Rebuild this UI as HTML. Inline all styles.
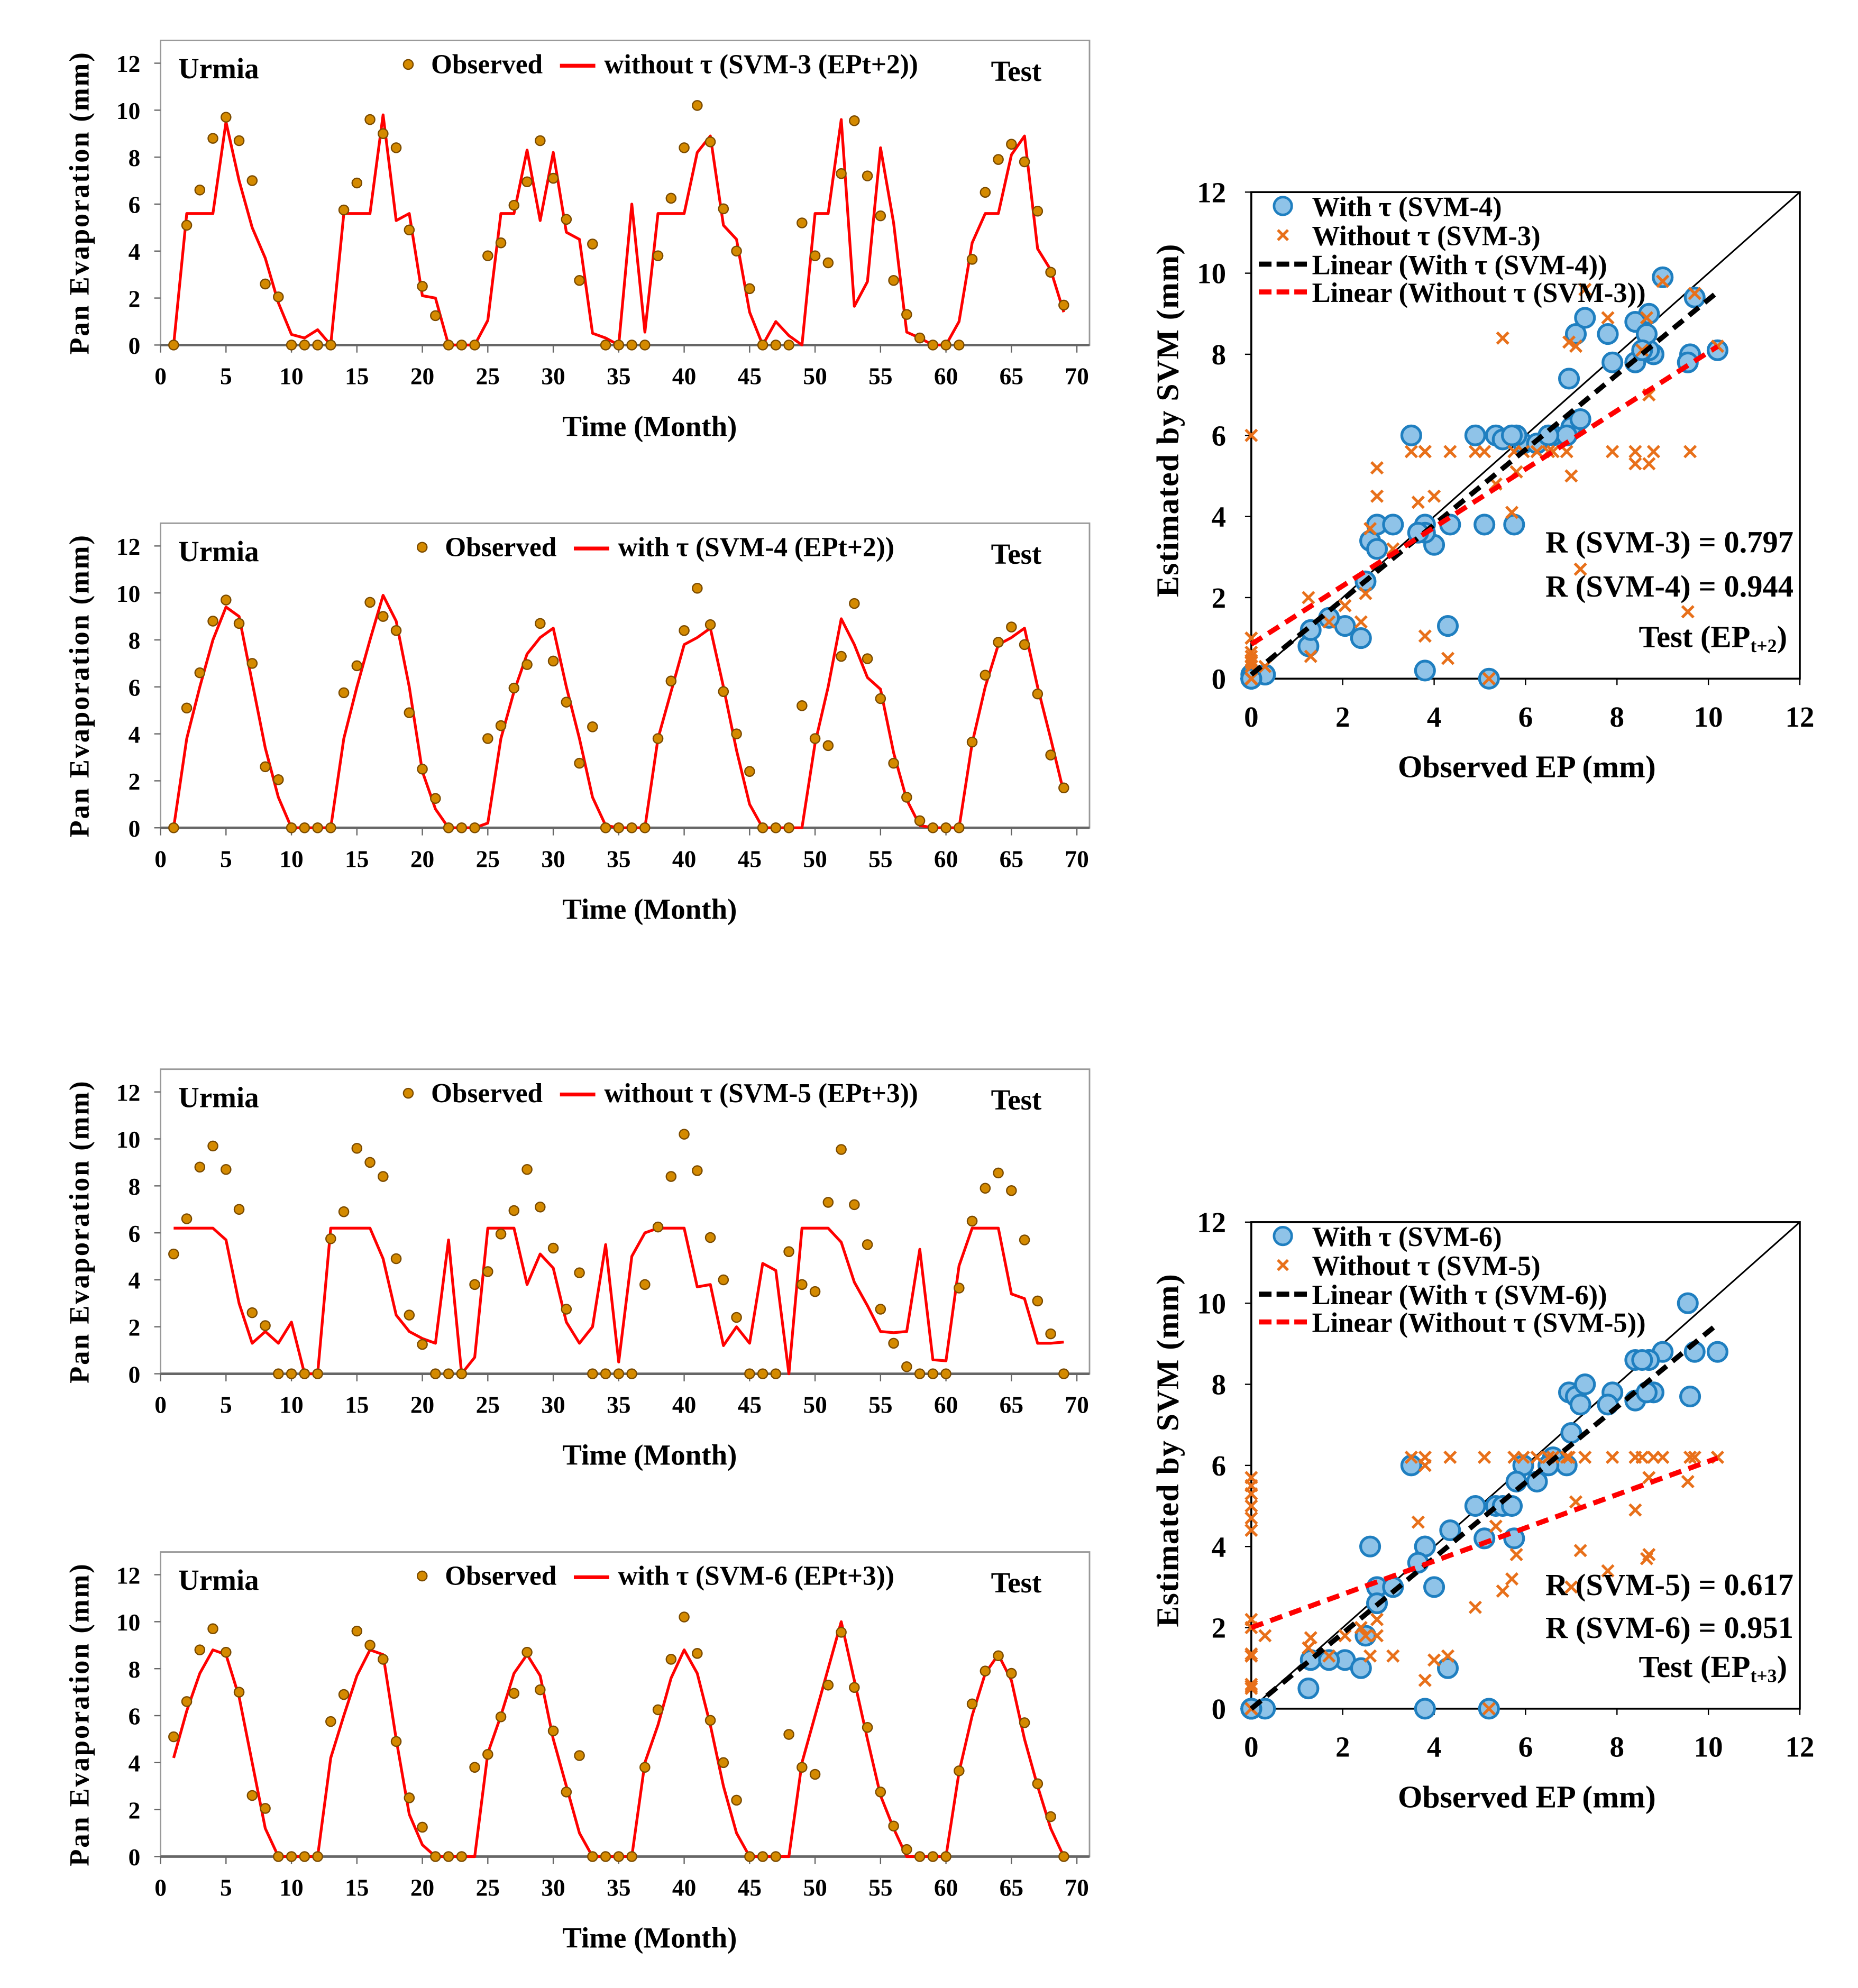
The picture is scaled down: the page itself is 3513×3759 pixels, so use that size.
<!DOCTYPE html>
<html><head><meta charset="utf-8"><style>
html,body{margin:0;padding:0;background:#fff;}
svg{display:block;}
text{font-family:"Liberation Serif",serif;font-weight:bold;fill:#000;}
</style></head><body>
<svg id="fig" xmlns="http://www.w3.org/2000/svg" width="3513" height="3759" viewBox="0 0 1470 1573"></svg>
<script>
const months = [];
for (let m = 1; m <= 69; m++) months.push(m);
const observedT2 = [0,5.1,6.6,8.8,9.7,8.7,7.0,2.6,2.05,0,0,0,0,5.75,6.9,9.6,9.0,8.4,4.9,2.5,1.25,0,0,0,3.8,4.35,5.95,6.95,8.7,7.1,5.35,2.75,4.3,0,0,0,0,3.8,6.25,8.4,10.2,8.65,5.8,4.0,2.4,0,0,0,5.2,3.8,3.5,7.3,9.55,7.2,5.5,2.75,1.3,0.3,0,0,0,3.65,6.5,7.9,8.55,7.8,5.7,3.1,1.7];
const observedT3 = [5.1,6.6,8.8,9.7,8.7,7.0,2.6,2.05,0,0,0,0,5.75,6.9,9.6,9.0,8.4,4.9,2.5,1.25,0,0,0,3.8,4.35,5.95,6.95,8.7,7.1,5.35,2.75,4.3,0,0,0,0,3.8,6.25,8.4,10.2,8.65,5.8,4.0,2.4,0,0,0,5.2,3.8,3.5,7.3,9.55,7.2,5.5,2.75,1.3,0.3,0,0,0,3.65,6.5,7.9,8.55,7.8,5.7,3.1,1.7,0];
const svm3 = [0,5.6,5.6,5.6,9.5,7.0,5.0,3.7,1.8,0.45,0.3,0.65,0,5.6,5.6,5.6,9.8,5.3,5.6,2.1,2.0,0,0,0,1.05,5.6,5.6,8.3,5.3,8.2,4.8,4.5,0.5,0.3,0,6.0,0.55,5.6,5.6,5.6,8.2,8.9,5.1,4.5,1.4,0,1.0,0.4,0,5.6,5.6,9.6,1.65,2.7,8.4,5.2,0.55,0.3,0,0,1.0,4.35,5.6,5.6,8.1,8.9,4.1,3.2,1.4];
const svm4 = [0,3.8,6.0,8.0,9.4,9.0,6.2,3.4,1.3,0,0,0,0,3.8,6.0,8.0,9.9,8.8,6.0,2.4,0.8,0,0,0,0.2,3.8,5.8,7.4,8.1,8.5,6.0,3.8,1.3,0.1,0,0,0,3.8,5.8,7.8,8.1,8.5,6.0,3.3,1.0,0,0,0,0,3.6,6.0,8.9,7.8,6.4,5.9,3.2,1.2,0.1,0,0,0,3.6,6.0,7.8,8.1,8.5,6.0,3.8,1.5];
const svm5 = [6.2,6.2,6.2,6.2,5.7,3.0,1.3,1.8,1.3,2.2,0,0,6.2,6.2,6.2,6.2,4.9,2.5,1.8,1.5,1.3,5.7,0,0.7,6.2,6.2,6.2,3.8,5.1,4.5,2.2,1.3,2.0,5.5,0.5,5.0,6.0,6.2,6.2,6.2,3.7,3.8,1.2,2.0,1.3,4.7,4.4,0,6.2,6.2,6.2,5.6,3.9,2.9,1.8,1.75,1.8,5.3,0.6,0.55,4.6,6.2,6.2,6.2,3.4,3.2,1.3,1.3,1.35];
const svm6 = [4.2,6.2,7.8,8.8,8.6,6.8,4.0,1.2,0,0,0,0,4.2,6.0,7.7,8.8,8.6,5.0,1.8,0.5,0,0,0,0,4.4,6.0,7.8,8.6,7.7,5.0,3.0,1.0,0,0,0,0,4.0,5.6,7.6,8.8,7.8,5.6,3.0,1.0,0,0,0,0,4.0,6.0,8.0,10.0,7.5,5.0,2.6,1.2,0,0,0,0,3.6,6.0,7.8,8.6,7.5,5.0,3.0,1.2,0];
const timeTicks = [0,5,10,15,20,25,30,35,40,45,50,55,60,65,70];
const evapTicks = [0,2,4,6,8,10,12];
const scatterTicks = [0,2,4,6,8,10,12];
const trendA = [0.1, 0.925];
const trendB = [0.85, 0.72];
const trendC = [0.0, 0.93];
const trendD = [2.0, 0.41];

const NS = 'http://www.w3.org/2000/svg';
const svg = document.getElementById('fig');
function mk(tag, attrs, parent, txt) {
  const e = document.createElementNS(NS, tag);
  for (const k in attrs) e.setAttribute(k, attrs[k]);
  if (txt !== undefined) e.textContent = txt;
  (parent || svg).appendChild(e);
  return e;
}

function lineChart(cfg) {
  const g = mk('g', {});
  
  
  const L = 127, R = 862, T = cfg.top, B = cfg.top + 241;
  const y12 = cfg.top + 18;
  const X = v => L + (v / 70) * (852 - L);
  const Y = v => B - (v / 12) * (B - y12);
  const frame = mk('rect', {x: L, y: T, width: R - L, height: B - T, fill: 'none', stroke: '#999', 'stroke-width': 1.2}, g);
  
  
  const xa = mk('line', {x1: L, y1: B, x2: R, y2: B, stroke: '#666', 'stroke-width': 2}, g);
  
  
  timeTicks.forEach(t => {
    mk('line', {x1: X(t), y1: B, x2: X(t), y2: B + 6, stroke: '#666', 'stroke-width': 1}, g);
    const tl = mk('text', {x: X(t), y: B + 31, 'text-anchor': 'middle', 'font-size': 19}, g, t);
    
    
  });
  evapTicks.forEach(t => {
    mk('line', {x1: L - 5, y1: Y(t), x2: L, y2: Y(t), stroke: '#666', 'stroke-width': 1}, g);
    const tl = mk('text', {x: 111, y: Y(t) + 7, 'text-anchor': 'end', 'font-size': 19}, g, t);
    
    
  });
  const cy = (T + B) / 2 + 8;
  const yt = mk('text', {x: 70, y: cy, 'text-anchor': 'middle', 'font-size': 22, 'letter-spacing': 1.2, transform: `rotate(-90 70 ${cy})`}, g, 'Pan Evaporation (mm)');
  
  
  const xt = mk('text', {x: 514, y: B + 72, 'text-anchor': 'middle', 'font-size': 23}, g, 'Time (Month)');
  
  
  const u = mk('text', {x: 141, y: T + 30, 'font-size': 23}, g, 'Urmia');
  
  
  const te = mk('text', {x: 784, y: T + 32, 'font-size': 23}, g, 'Test');
  
  
  const lg = mk('g', {}, g);
  
  
  mk('circle', {cx: cfg.legX, cy: T + 19, r: 3.8, fill: '#d48a00', stroke: '#7a4a00', 'stroke-width': 1}, lg);
  mk('text', {x: cfg.legX + 18, y: T + 26, 'font-size': 21.5}, lg, 'Observed');
  mk('line', {x1: cfg.legX + 120, y1: T + 20, x2: cfg.legX + 148, y2: T + 20, stroke: '#f00', 'stroke-width': 3}, lg);
  mk('text', {x: cfg.legX + 155, y: T + 26, 'font-size': 21.5}, lg, cfg.label);
  const pts = months.map((m, i) => X(m) + ',' + Y(cfg.pred[i])).join(' ');
  const pl = mk('polyline', {points: pts, fill: 'none', stroke: '#f00', 'stroke-width': 2.2, 'stroke-linejoin': 'round'}, g);
  
  
  months.forEach((m, i) => {
    const c = mk('circle', {cx: X(m), cy: Y(cfg.obs[i]), r: 3.8, fill: '#d48a00', stroke: '#7a4a00', 'stroke-width': 1}, g);
    
    
  });
}

function scatter(cfg) {
  const g = mk('g', {});
  
  
  const L = 990, R = 1424, B = cfg.bottom, T = cfg.bottom - 385;
  const X = v => L + v / 12 * (R - L);
  const Y = v => B - v / 12 * (B - T);
  const fr = mk('rect', {x: L, y: T, width: R - L, height: B - T, fill: 'none', stroke: '#000', 'stroke-width': 1.5}, g);
  
  
  scatterTicks.forEach(t => {
    mk('line', {x1: X(t), y1: B, x2: X(t), y2: B + 5, stroke: '#000', 'stroke-width': 1}, g);
    mk('line', {x1: L - 5, y1: Y(t), x2: L, y2: Y(t), stroke: '#000', 'stroke-width': 1}, g);
    const a = mk('text', {x: X(t), y: B + 38, 'text-anchor': 'middle', 'font-size': 23}, g, t);
    
    
    const b = mk('text', {x: 970, y: Y(t) + 8, 'text-anchor': 'end', 'font-size': 23}, g, t);
    
    
  });
  const xt = mk('text', {x: 1208, y: B + 78, 'text-anchor': 'middle', 'font-size': 25}, g, 'Observed EP (mm)');
  
  
  const cy = (T + B) / 2 - 12;
  const yt = mk('text', {x: 932, y: cy, 'text-anchor': 'middle', 'font-size': 25, 'letter-spacing': 0.6, transform: `rotate(-90 932 ${cy})`}, g, 'Estimated by SVM (mm)');
  
  
  const one = mk('line', {x1: X(0), y1: Y(0), x2: X(12), y2: Y(12), stroke: '#000', 'stroke-width': 1.3}, g);
  
  
  cfg.obs.forEach((o, i) => {
    const c = mk('circle', {cx: X(o), cy: Y(cfg.withT[i]), r: 7.5, fill: '#8fc3e8', stroke: '#1f7fc0', 'stroke-width': 2.2}, g);
    
    
  });
  cfg.obs.forEach((o, i) => {
    const x = X(o), y = Y(cfg.withoutT[i]), d = 4.5;
    const p = mk('path', {d: `M${x-d},${y-d}L${x+d},${y+d}M${x-d},${y+d}L${x+d},${y-d}`, stroke: '#e8701a', 'stroke-width': 2.2}, g);
    
    
  });
  const tb = mk('line', {x1: X(0), y1: Y(cfg.trW[0]), x2: X(10.2), y2: Y(cfg.trW[0] + cfg.trW[1] * 10.2), stroke: '#000', 'stroke-width': 4, 'stroke-dasharray': '10,6'}, g);
  
  
  const tr = mk('line', {x1: X(0), y1: Y(cfg.trWo[0]), x2: X(10.2), y2: Y(cfg.trWo[0] + cfg.trWo[1] * 10.2), stroke: '#f00', 'stroke-width': 4, 'stroke-dasharray': '10,6'}, g);
  
  
  const lg = mk('g', {}, g);
  
  
  const ly = T + 11;
  mk('circle', {cx: 1015, cy: ly, r: 7, fill: '#8fc3e8', stroke: '#1f7fc0', 'stroke-width': 2}, lg);
  mk('text', {x: 1038, y: ly + 8, 'font-size': 22}, lg, cfg.l1);
  mk('path', {d: `M1011,${ly+19}L1019,${ly+27}M1011,${ly+27}L1019,${ly+19}`, stroke: '#e8701a', 'stroke-width': 2.2}, lg);
  mk('text', {x: 1038, y: ly + 31, 'font-size': 22}, lg, cfg.l2);
  mk('line', {x1: 996, y1: ly + 46, x2: 1034, y2: ly + 46, stroke: '#000', 'stroke-width': 4, 'stroke-dasharray': '10,4'}, lg);
  mk('text', {x: 1038, y: ly + 54, 'font-size': 22}, lg, cfg.l3);
  mk('line', {x1: 996, y1: ly + 68, x2: 1034, y2: ly + 68, stroke: '#f00', 'stroke-width': 4, 'stroke-dasharray': '10,4'}, lg);
  mk('text', {x: 1038, y: ly + 76, 'font-size': 22}, lg, cfg.l4);
  const r1 = mk('text', {x: 1419, y: cfg.rY[0], 'text-anchor': 'end', 'font-size': 24.5}, g, cfg.r1);
  
  
  const r2 = mk('text', {x: 1419, y: cfg.rY[1], 'text-anchor': 'end', 'font-size': 24.5}, g, cfg.r2);
  
  
  const r3 = mk('text', {x: 1414, y: cfg.rY[2], 'text-anchor': 'end', 'font-size': 24.5}, g);
  
  
  mk('tspan', {}, r3, 'Test (EP');
  mk('tspan', {'font-size': 15, dy: 4}, r3, cfg.sub);
  mk('tspan', {dy: -4}, r3, ')');
}

lineChart({name: 'chart-svm3', top: 32, obs: observedT2, pred: svm3, legX: 323, label: 'without τ (SVM-3 (EPt+2))'});
lineChart({name: 'chart-svm4', top: 414, obs: observedT2, pred: svm4, legX: 334, label: 'with τ (SVM-4 (EPt+2))'});
lineChart({name: 'chart-svm5', top: 846, obs: observedT3, pred: svm5, legX: 323, label: 'without τ (SVM-5 (EPt+3))'});
lineChart({name: 'chart-svm6', top: 1228, obs: observedT3, pred: svm6, legX: 334, label: 'with τ (SVM-6 (EPt+3))'});
scatter({name: 'scatter-t2', bottom: 537, obs: observedT2, withT: svm4, withoutT: svm3, trW: trendA, trWo: trendB,
  l1: 'With τ (SVM-4)', l2: 'Without τ (SVM-3)', l3: 'Linear (With τ (SVM-4))', l4: 'Linear (Without τ (SVM-3))',
  r1: 'R (SVM-3) = 0.797', r2: 'R (SVM-4) = 0.944', sub: 't+2', rY: [437, 472, 512]});
scatter({name: 'scatter-t3', bottom: 1352, obs: observedT3, withT: svm6, withoutT: svm5, trW: trendC, trWo: trendD,
  l1: 'With τ (SVM-6)', l2: 'Without τ (SVM-5)', l3: 'Linear (With τ (SVM-6))', l4: 'Linear (Without τ (SVM-5))',
  r1: 'R (SVM-5) = 0.617', r2: 'R (SVM-6) = 0.951', sub: 't+3', rY: [1262, 1296, 1327]});
</script>
</body></html>
